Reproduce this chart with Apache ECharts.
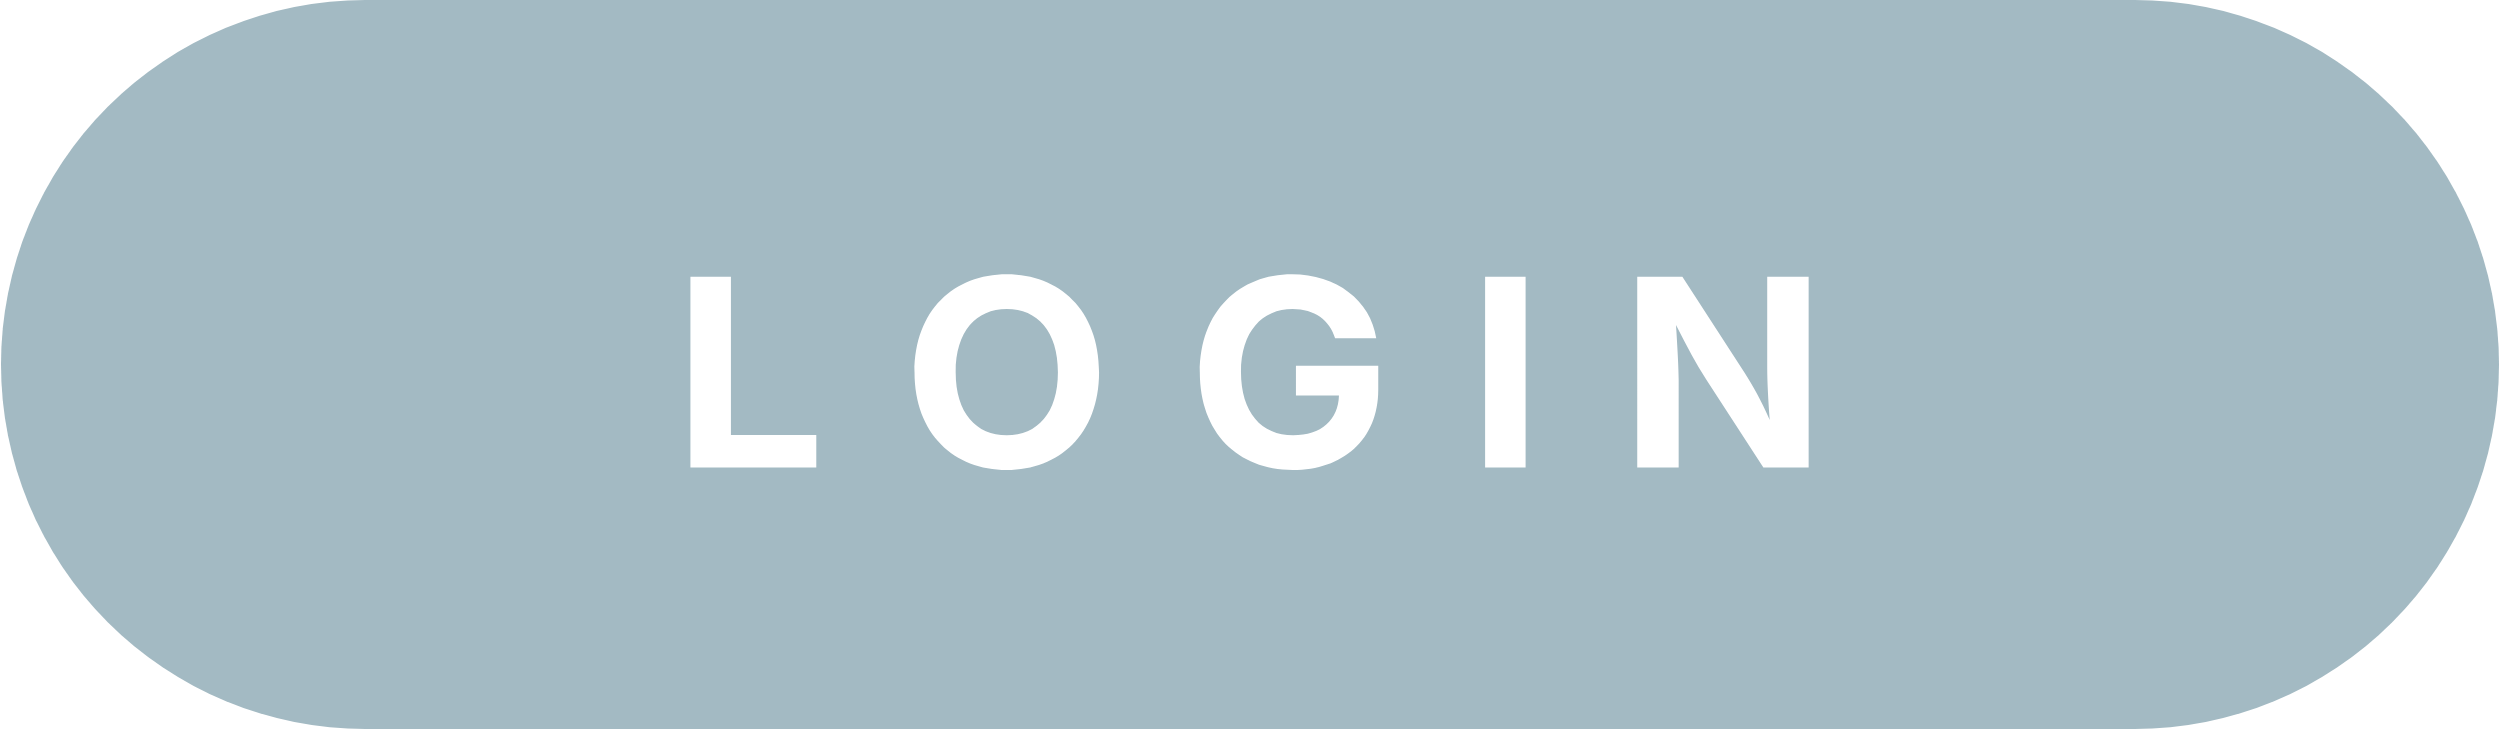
<!DOCTYPE html>
<html lang="en">
<head>
  <meta charset="utf-8">
  <title>Login Button</title>
  <script src="https://cdn.jsdelivr.net/npm/echarts@6.0.0/dist/echarts.min.js"></script>
  <style>
    * {
      margin: 0;
      padding: 0;
    }
    html, body {
      background: #ffffff;
    }
    .button-chart {
      width: 2500px;
      height: 729px;
    }
  </style>
</head>
<body>
  <div id="button-chart" class="button-chart"></div>

  <script>
    // button label, split into letters so they can be tracked out
    var labelLetters = ['L', 'O', 'G', 'I', 'N'];
    var fillColor = '#a3bac3';
    var textColor = '#ffffff';
    var fontWeight = 'bold';
    var fontFamily = 'Inter';

    // size of the lettering in the original: cap height, summed glyph widths, word width
    var capHeight = 191;
    var glyphInkTotal = 718;
    var wordWidth = 1121;
    var capCenterY = 370.5;

    var dom = document.getElementById('button-chart');
    var myChart = echarts.init(dom, null, { renderer: 'canvas' });

    var W = myChart.getWidth();
    var H = myChart.getHeight();

    // measure the font so the letters come out at the right size
    var ctx = document.createElement('canvas').getContext('2d');
    function fontAt(size) {
      return fontWeight + ' ' + size + 'px ' + fontFamily;
    }
    ctx.font = fontAt(100);
    ctx.textBaseline = 'alphabetic';
    var capRatio = ctx.measureText('L').actualBoundingBoxAscent / 100;
    var fontSize = Math.round(capHeight / capRatio);
    var font = fontAt(fontSize);

    ctx.font = font;
    var metrics = labelLetters.map(function (ch) {
      var m = ctx.measureText(ch);
      return { adv: m.width, left: m.actualBoundingBoxLeft, right: m.actualBoundingBoxRight };
    });

    // the original face is a bit wider, so stretch the glyphs horizontally
    var inkSum = metrics.reduce(function (s, m) { return s + m.left + m.right; }, 0);
    var stretch = Math.min(1.2, Math.max(0.9, glyphInkTotal / inkSum));

    // zrender draws lines with textBaseline 'middle'
    ctx.textBaseline = 'middle';
    var midAsc = ctx.measureText('L').actualBoundingBoxAscent;
    var midY = capCenterY - capHeight / 2 + midAsc;

    // letter spacing so the word spans wordWidth
    var last = metrics.length - 1;
    var naturalInk = (metrics[0].left + metrics[last].right) * stretch;
    for (var i = 0; i < last; i++) {
      naturalInk += metrics[i].adv * stretch;
    }
    var spacing = (wordWidth - naturalInk) / last;

    var x = W / 2 - wordWidth / 2 + metrics[0].left * stretch;
    var letterEls = labelLetters.map(function (ch, i) {
      var el = {
        type: 'text',
        x: x,
        y: midY,
        scaleX: stretch,
        style: {
          text: ch,
          font: font,
          fill: textColor,
          align: 'left',
          verticalAlign: 'middle',
          lineHeight: fontSize
        }
      };
      x += metrics[i].adv * stretch + spacing;
      return el;
    });

    var option = {
      backgroundColor: '#ffffff',
      graphic: [
        {
          type: 'rect',
          shape: { x: 1, y: 0, width: W - 2, height: H, r: H / 2 },
          style: { fill: fillColor }
        }
      ].concat(letterEls)
    };

    myChart.setOption(option);
    window.addEventListener('resize', myChart.resize);
  </script>
</body>
</html>
